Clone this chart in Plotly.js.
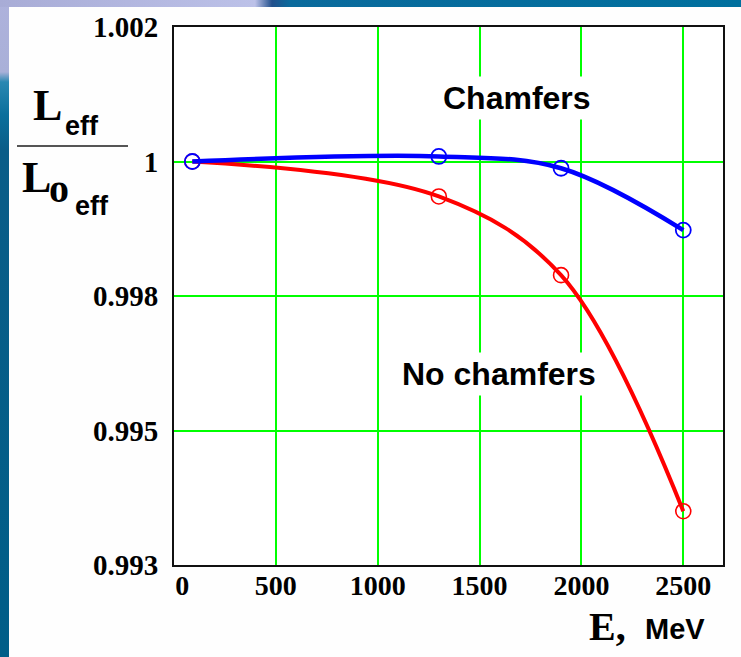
<!DOCTYPE html>
<html>
<head>
<meta charset="utf-8">
<script src="https://cdn.plot.ly/plotly-3.0.1.min.js"></script>
<style>
  html, body { margin: 0; padding: 0; width: 741px; height: 657px; overflow: hidden; }
  body { background: linear-gradient(180deg, #aeb2dc 0px, #a9b0d8 72px, #2a88b2 82px, #0b6f9c 115px, #0a5d88 150px, #005e88 657px); position: relative; }
  #topstripe { position: absolute; left: 0; top: 0; width: 741px; height: 7px;
    background: linear-gradient(90deg, #a8acd6 0px, #bcc1e8 255px, #22508c 272px, #0a6a9c 290px, #00709e 741px); }
  #panel { position: absolute; left: 9px; top: 7px; width: 732px; height: 650px; background: #fefefe; }
  #plot { position: absolute; left: 0; top: 0; width: 741px; height: 657px; }
</style>
</head>
<body>
<div id="topstripe"></div>
<div id="panel"></div>
<div id="plot"></div>
<script>
// ---- data ----
var energyMeV = [90, 1300, 1900, 2500];
var withChamfers = [1.0, 1.000075, 0.9999, 0.99898];
var noChamfers = [1.0, 0.99948, 0.99831, 0.99480];

var xTickVals = [0, 500, 1000, 1500, 2000, 2500];
var xTickText = ['\u2002\u200a0', '500', '1000', '1500', '2000', '2500'];
var yTickVals = [0.994, 0.996, 0.998, 1.0, 1.002];
var yTickText = ['0.993', '0.995', '0.998', '1', '1.002'];

var seriesNames = ['No chamfers', 'Chamfers'];

// ---- layout geometry ----
var W = 741, H = 657;
var M = {l: 174, r: 18, t: 27, b: 92};
var PW = W - M.l - M.r, PH = H - M.t - M.b;
function px(x) { return (x - M.l) / PW; }
function py(y) { return (H - M.b - y) / PH; }

var serif = 'Liberation Serif, Times New Roman, serif';
var sans = 'Liberation Sans, Arial, sans-serif';

var traces = [
  {
    x: energyMeV, y: noChamfers, name: seriesNames[0],
    mode: 'lines+markers', type: 'scatter',
    line: {color: '#ff0000', width: 4, shape: 'spline', smoothing: 1},
    marker: {symbol: 'circle-open', size: 15, color: '#ff0000', line: {width: 1.6, color: '#ff0000'}}
  },
  {
    x: energyMeV, y: withChamfers, name: seriesNames[1],
    mode: 'lines+markers', type: 'scatter',
    line: {color: '#0000ff', width: 4.5, shape: 'spline', smoothing: 1},
    marker: {symbol: 'circle-open', size: 15, color: '#0000ff', line: {width: 1.8, color: '#0000ff'}}
  }
];

function ann(text, x, y, font, extra) {
  var a = {text: text, xref: 'paper', yref: 'paper', x: px(x), y: py(y),
    xanchor: 'center', yanchor: 'middle', showarrow: false, font: font};
  if (extra) for (var k in extra) a[k] = extra[k];
  return a;
}

var layout = {
  width: W, height: H,
  margin: M,
  paper_bgcolor: 'rgba(0,0,0,0)',
  plot_bgcolor: '#ffffff',
  showlegend: false,
  xaxis: {
    range: [0, 2695], tickvals: xTickVals, ticktext: xTickText,
    showgrid: true, gridcolor: '#00ff00', gridwidth: 2, zeroline: false,
    showline: true, linecolor: '#111111', linewidth: 2, mirror: true,
    ticks: '', ticklabelstandoff: -6,
    tickfont: {family: serif, size: 28, color: '#000000', weight: 'bold'}
  },
  yaxis: {
    range: [0.994, 1.002], tickvals: yTickVals, ticktext: yTickText,
    showgrid: true, gridcolor: '#00ff00', gridwidth: 2, zeroline: false,
    showline: true, linecolor: '#111111', linewidth: 2, mirror: true,
    ticks: 'outside', ticklen: 8, tickcolor: 'rgba(0,0,0,0)',
    tickfont: {family: serif, size: 29, color: '#000000', weight: 'bold'}
  },
  shapes: [
    {type: 'line', xref: 'paper', yref: 'paper', x0: px(17), x1: px(128), y0: py(146), y1: py(146),
     line: {color: '#555555', width: 2}}
  ],
  annotations: [
    ann('<b>Chamfers</b>', 517, 98, {family: sans, size: 32, color: '#000000'},
        {bgcolor: '#ffffff', borderpad: 3}),
    ann('<b>No chamfers</b>', 499, 374, {family: sans, size: 32, color: '#000000'},
        {bgcolor: '#ffffff', borderpad: 3}),
    ann('<b>E,</b>', 607, 626, {family: serif, size: 40, color: '#000000'}),
    ann('<b>MeV</b>', 675, 629, {family: sans, size: 29, color: '#000000'}),
    ann('<b>L</b>', 47, 105, {family: serif, size: 44, color: '#000000'}),
    ann('<b>eff</b>', 82, 126, {family: sans, size: 27, color: '#000000'}),
    ann('<b>L</b>', 36, 177, {family: serif, size: 44, color: '#000000'}),
    ann('<b>o</b>', 59, 188, {family: serif, size: 40, color: '#000000'}),
    ann('<b>eff</b>', 92, 206, {family: sans, size: 27, color: '#000000'})
  ]
};

Plotly.newPlot('plot', traces, layout, {staticPlot: true, displayModeBar: false});
</script>
</body>
</html>
